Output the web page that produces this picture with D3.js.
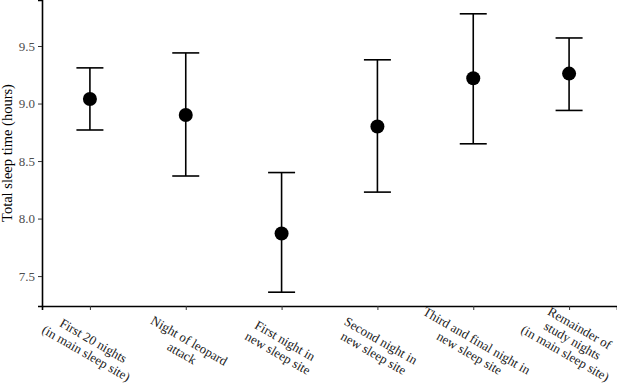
<!DOCTYPE html>
<html>
<head>
<meta charset="utf-8">
<script src="https://cdn.jsdelivr.net/npm/d3@7"></script>
<style>
  body { margin: 0; background: #fff; }
  svg { display: block; }
  svg text { font-family: "Liberation Serif", "Times New Roman", "DejaVu Serif", serif; }
</style>
</head>
<body>
<div id="chart"></div>
<script>
// datos
const categories = [
  ["First 20 nights", "(in main sleep site)"],
  ["Night of leopard", "attack"],
  ["First night in", "new sleep site"],
  ["Second night in", "new sleep site"],
  ["Third and final night in", "new sleep site"],
  ["Remainder of", "study nights", "(in main sleep site)"]
];
const means = [9.04, 8.90, 7.87, 8.80, 9.22, 9.26];
const upper = [9.31, 9.44, 8.40, 9.38, 9.78, 9.57];
const lower = [8.77, 8.37, 7.36, 8.23, 8.65, 8.94];
const yTicks = [7.5, 8.0, 8.5, 9.0, 9.5];

const W = 617, H = 385;
const margin = { top: 0, right: 0, bottom: 79, left: 42 };
const width = W - margin.left - margin.right;
const height = H - margin.top - margin.bottom;

const svg = d3.select("#chart").append("svg")
    .attr("width", W)
    .attr("height", H)
  .append("g")
    .attr("transform", `translate(${margin.left},${margin.top})`);

const data = categories.map((c, i) => ({ key: i, label: c, mean: means[i], hi: upper[i], lo: lower[i] }));

// escalas
const x = d3.scalePoint()
    .domain(data.map(d => d.key))
    .range([0, width])
    .padding(0.5);

const y = d3.scaleLinear()
    .domain([7.24, 9.9])
    .range([height, 0]);

// eje Y
const yAxis = svg.append("g")
    .call(d3.axisLeft(y).tickValues(yTicks).tickFormat(d3.format(".1f")).tickSize(4).tickPadding(3));
yAxis.attr("font-family", null);
yAxis.select(".domain").attr("stroke", "#000").attr("stroke-width", 1.6);
yAxis.selectAll(".tick line").attr("stroke", "#333").attr("stroke-width", 1);
yAxis.selectAll("text")
    .attr("font-size", 13)
    .attr("fill", "#4d4d4d");

// eje X
const xAxis = svg.append("g")
    .attr("transform", `translate(0,${height})`)
    .call(d3.axisBottom(x).tickSize(4).tickFormat(""));
xAxis.select(".domain").attr("stroke", "#000").attr("stroke-width", 1.6);
xAxis.selectAll(".tick line").attr("stroke", "#333").attr("stroke-width", 1);

// etiquetas rotadas (la última línea queda fija bajo el tick)
const lineH = 14.5;
const labels = svg.append("g")
    .selectAll("text")
    .data(data)
    .enter()
    .append("text")
      .attr("transform", d => `translate(${x(d.key) - 6},${height + 51}) rotate(30)`)
      .attr("text-anchor", "middle")
      .attr("font-size", 13)
      .attr("fill", "#1a1a1a");
labels.each(function(d) {
  const t = d3.select(this);
  const n = d.label.length;
  d.label.forEach((line, j) => {
    t.append("tspan").attr("x", 0).attr("y", -(n - 1 - j) * lineH).text(line);
  });
});

// barras de error
const capW = 13.5;
const bars = svg.append("g").selectAll("g")
    .data(data)
    .enter()
    .append("g")
      .attr("stroke", "#000")
      .attr("stroke-width", 1.6);
bars.append("line")
    .attr("x1", d => x(d.key)).attr("x2", d => x(d.key))
    .attr("y1", d => y(d.hi)).attr("y2", d => y(d.lo));
bars.append("line")
    .attr("x1", d => x(d.key) - capW).attr("x2", d => x(d.key) + capW)
    .attr("y1", d => y(d.hi)).attr("y2", d => y(d.hi));
bars.append("line")
    .attr("x1", d => x(d.key) - capW).attr("x2", d => x(d.key) + capW)
    .attr("y1", d => y(d.lo)).attr("y2", d => y(d.lo));

// puntos
svg.append("g").selectAll("circle")
    .data(data)
    .enter()
    .append("circle")
      .attr("cx", d => x(d.key))
      .attr("cy", d => y(d.mean))
      .attr("r", 7)
      .attr("fill", "#000");

// título eje Y
svg.append("text")
    .attr("transform", `translate(${-margin.left + 12},${height / 2}) rotate(-90)`)
    .attr("text-anchor", "middle")
    .attr("font-size", 14.5)
    .attr("fill", "#000")
    .text("Total sleep time (hours)");
</script>
</body>
</html>
